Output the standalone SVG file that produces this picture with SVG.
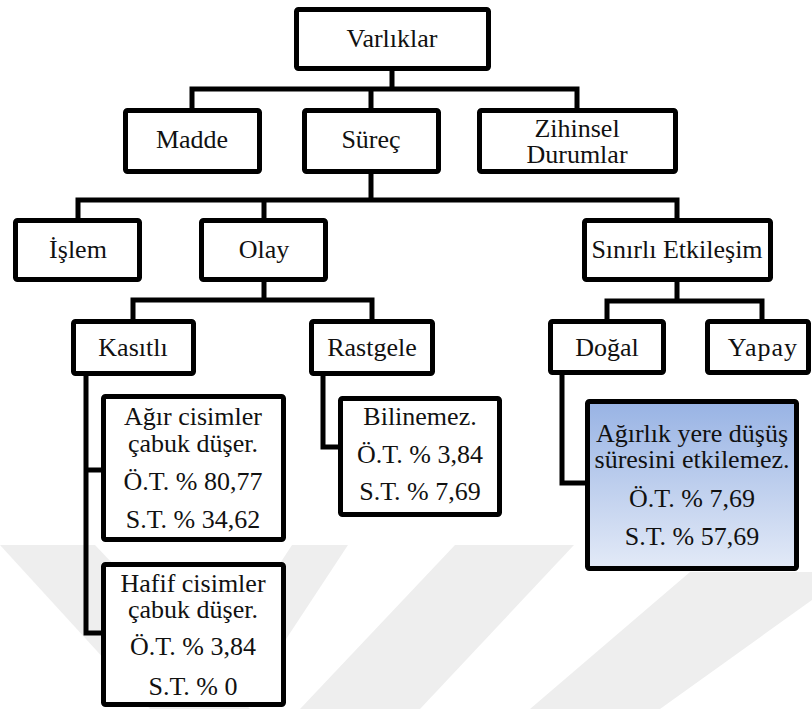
<svg xmlns="http://www.w3.org/2000/svg" width="812" height="709" viewBox="0 0 812 709">
  <defs>
    <linearGradient id="blueFill" x1="0" y1="0" x2="0" y2="1">
      <stop offset="0" stop-color="#98b3e4"/>
      <stop offset="1" stop-color="#e3eaf7"/>
    </linearGradient>
    <style>
      .box { fill: #ffffff; stroke: #000000; stroke-width: 5; }
      .hl { fill: url(#blueFill); stroke: #000000; stroke-width: 5; }
      .wire { fill: none; stroke: #000000; stroke-width: 5; stroke-linejoin: miter; stroke-linecap: square; }
      .lbl { font-size: 26px; fill: #111111; text-anchor: middle; }
      .mark { fill: #eeeeee; }
    </style>
  </defs>

  <rect x="0" y="0" width="812" height="709" fill="#ffffff"/>

  <!-- faint background watermark -->
  <g id="watermark">
    <polygon class="mark" points="0,545 95,545 250,709 150,709"/>
    <polygon class="mark" points="292,545 348,545 240,709 185,709"/>
    <polygon class="mark" points="455,545 574,545 420,709 300,709"/>
    <polygon class="mark" points="690,572 812,572 812,600 660,709 530,709"/>
  </g>

  <!-- connectors -->
  <g id="connectors">
    <path class="wire" d="M392 71 V89 M192 89 H577 M192 89 V108 M371 89 V108 M577 89 V108"/>
    <path class="wire" d="M371 174 V200 M78 200 H677 M78 200 V218 M264 200 V218 M677 200 V218"/>
    <path class="wire" d="M264 282 V300 M133 300 H372 M133 300 V319 M372 300 V319"/>
    <path class="wire" d="M677 282 V301 M607 301 H762 M607 301 V319 M762 301 V319"/>
    <path class="wire" d="M86 376 V633 M86 470 H101 M86 633 H101"/>
    <path class="wire" d="M323 376 V447 H338"/>
    <path class="wire" d="M562 375 V483 H585"/>
  </g>

  <g font-family="Liberation Serif, Times New Roman, serif">
  <g id="varliklar">
    <rect class="box" x="296.5" y="9.5" width="192" height="59" rx="2"/>
    <text class="lbl" x="392" y="47">Varlıklar</text>
  </g>
  <g id="madde">
    <rect class="box" x="125.5" y="110.5" width="134" height="61" rx="2"/>
    <text class="lbl" x="192" y="148">Madde</text>
  </g>
  <g id="surec">
    <rect class="box" x="304.5" y="110.5" width="134" height="61" rx="2"/>
    <text class="lbl" x="371" y="148">Süreç</text>
  </g>
  <g id="zihinsel">
    <rect class="box" x="479.5" y="110.5" width="196" height="61" rx="2"/>
    <text class="lbl" x="577" y="137">Zihinsel</text>
    <text class="lbl" x="577" y="163">Durumlar</text>
  </g>
  <g id="islem">
    <rect class="box" x="15.5" y="220.5" width="124" height="59" rx="2"/>
    <text class="lbl" x="78" y="258">İşlem</text>
  </g>
  <g id="olay">
    <rect class="box" x="201.5" y="220.5" width="124" height="59" rx="2"/>
    <text class="lbl" x="264" y="258">Olay</text>
  </g>
  <g id="sinirli-etkilesim">
    <rect class="box" x="584.5" y="220.5" width="186" height="59" rx="2"/>
    <text class="lbl" x="677" y="258">Sınırlı Etkileşim</text>
  </g>
  <g id="kasitli">
    <rect class="box" x="73.5" y="321.5" width="120" height="52" rx="2"/>
    <text class="lbl" x="133" y="356">Kasıtlı</text>
  </g>
  <g id="rastgele">
    <rect class="box" x="311.5" y="321.5" width="121" height="52" rx="2"/>
    <text class="lbl" x="372" y="356">Rastgele</text>
  </g>
  <g id="dogal">
    <rect class="box" x="550.5" y="321.5" width="113" height="51" rx="2"/>
    <text class="lbl" x="607" y="356">Doğal</text>
  </g>
  <g id="yapay">
    <rect class="box" x="707.5" y="321.5" width="101" height="51" rx="2"/>
    <text class="lbl" x="763" y="356" letter-spacing="1">Yapay</text>
  </g>
  <g id="agir-cisimler">
    <rect class="box" x="103.5" y="396.5" width="180" height="143" rx="2"/>
    <text class="lbl" x="193" y="425">Ağır cisimler</text>
    <text class="lbl" x="193" y="452">çabuk düşer.</text>
    <text class="lbl" x="193" y="490">Ö.T. % 80,77</text>
    <text class="lbl" x="193" y="528">S.T. % 34,62</text>
  </g>
  <g id="hafif-cisimler">
    <rect class="box" x="103.5" y="564.5" width="180" height="140" rx="2"/>
    <text class="lbl" x="193" y="592">Hafif cisimler</text>
    <text class="lbl" x="193" y="618">çabuk düşer.</text>
    <text class="lbl" x="193" y="655">Ö.T. % 3,84</text>
    <text class="lbl" x="193" y="695">S.T. % 0</text>
  </g>
  <g id="bilinemez">
    <rect class="box" x="340.5" y="398.5" width="159" height="116" rx="2"/>
    <text class="lbl" x="420" y="425">Bilinemez.</text>
    <text class="lbl" x="420" y="463">Ö.T. % 3,84</text>
    <text class="lbl" x="420" y="500">S.T. % 7,69</text>
  </g>
  <g id="agirlik">
    <rect class="hl" x="587.5" y="401.5" width="209" height="167" rx="2"/>
    <text class="lbl" x="692" y="442">Ağırlık yere düşüş</text>
    <text class="lbl" x="692" y="468">süresini etkilemez.</text>
    <text class="lbl" x="692" y="507">Ö.T. % 7,69</text>
    <text class="lbl" x="692" y="545">S.T. % 57,69</text>
  </g>
  </g>
</svg>
